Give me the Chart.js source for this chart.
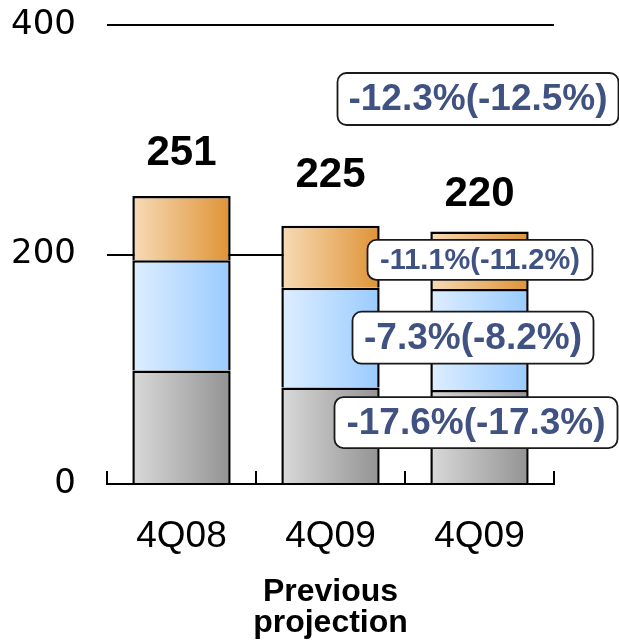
<!DOCTYPE html>
<html>
<head>
<meta charset="utf-8">
<style>
  html, body { margin: 0; padding: 0; background: #ffffff; }
  #chart { display: block; }
</style>
<script src="https://cdn.jsdelivr.net/npm/chart.js@4/dist/chart.umd.min.js"></script>
</head>
<body>
<canvas id="chart" width="619" height="641"></canvas>
<script>
// Categories and stacked segment values
const categories = ['4Q08', '4Q09', '4Q09'];
const graySeries = [99, 84, 82];
const blueSeries = [96, 87, 88];
const orangeSeries = [56, 54, 50];
const totals = [251, 225, 220];
const yTicks = [0, 200, 400];
const changeLabels = ['-12.3%(-12.5%)', '-11.1%(-11.2%)', '-7.3%(-8.2%)', '-17.6%(-17.3%)'];
const axisTitle = ['Previous', 'projection'];

const BAR_PCT = 0.66;
const PLOT_TOP = 25;

// Horizontal gradient spanning each individual bar
function barGradient(left, right) {
  return function (ctx) {
    const chart = ctx.chart;
    const xs = chart.scales && chart.scales.x;
    if (!xs || ctx.type !== 'data' || !isFinite(xs.width)) return right;
    const cx = xs.getPixelForValue(ctx.dataIndex);
    const half = xs.width / categories.length * BAR_PCT / 2;
    const g = chart.ctx.createLinearGradient(cx - half, 0, cx + half, 0);
    g.addColorStop(0, left);
    g.addColorStop(1, right);
    return g;
  };
}

// Totals above bars, axis tick marks and the change call-out boxes
const overlayPlugin = {
  id: 'overlay',
  afterDatasetsDraw(chart) {
    const { ctx, chartArea: area, scales: { x, y } } = chart;
    ctx.save();

    // tick marks pointing up from the category axis
    ctx.strokeStyle = '#000';
    ctx.lineWidth = 2;
    const n = categories.length;
    for (let i = 0; i <= n; i++) {
      const px = Math.round(area.left + i * area.width / n);
      ctx.beginPath();
      ctx.moveTo(px, area.bottom);
      ctx.lineTo(px, area.bottom - 13);
      ctx.stroke();
    }

    // totals
    const lift = [31, 39, 26];
    ctx.fillStyle = '#000';
    ctx.font = 'bold 42px "Liberation Sans", Arial, sans-serif';
    ctx.textAlign = 'center';
    ctx.textBaseline = 'alphabetic';
    totals.forEach((t, i) => {
      ctx.fillText(String(t), x.getPixelForValue(i), y.getPixelForValue(t) - lift[i]);
    });

    // call-out boxes next to the last bar
    const anchorX = x.getPixelForValue(n - 1);
    const boxes = [
      { text: changeLabels[0], dx: -1.5, v: 335.5, size: 37, w: 281, h: 52 },
      { text: changeLabels[1], dx: 0.5, v: 195.3, size: 29, w: 225, h: 40 },
      { text: changeLabels[2], dx: -6.5, v: 127.5, size: 37, w: 241, h: 52 },
      { text: changeLabels[3], dx: -3.5, v: 53.5, size: 37, w: 283, h: 51 }
    ];
    boxes.forEach(b => {
      const cx = anchorX + b.dx;
      const cy = y.getPixelForValue(b.v);
      ctx.beginPath();
      ctx.roundRect(cx - b.w / 2, cy - b.h / 2, b.w, b.h, 9);
      ctx.fillStyle = '#ffffff';
      ctx.fill();
      ctx.lineWidth = 1.8;
      ctx.strokeStyle = '#1a1a1a';
      ctx.stroke();
      ctx.fillStyle = '#405282';
      ctx.font = 'bold ' + b.size + 'px "Liberation Sans", Arial, sans-serif';
      ctx.textAlign = 'center';
      ctx.textBaseline = 'middle';
      ctx.fillText(b.text, cx, cy + 1);
    });

    ctx.restore();
  }
};

// Pin the plot area top regardless of label overflow padding
const plotTopPlugin = {
  id: 'plotTop',
  afterLayout(chart) {
    const area = chart.chartArea;
    const y = chart.scales.y;
    if (area.top !== PLOT_TOP) {
      area.top = PLOT_TOP;
      area.height = area.bottom - area.top;
      y.top = PLOT_TOP;
      y.height = y.bottom - y.top;
      y.configure();
    }
  }
};

new Chart(document.getElementById('chart'), {
  type: 'bar',
  data: {
    labels: categories,
    datasets: [
      { data: graySeries, backgroundColor: barGradient('#d9d9d9', '#939393') },
      { data: blueSeries, backgroundColor: barGradient('#deeeff', '#99cbff') },
      { data: orangeSeries, backgroundColor: barGradient('#f7dbb6', '#df9336') }
    ].map(ds => Object.assign(ds, {
      borderColor: '#000000',
      borderWidth: 2.5,
      categoryPercentage: 1,
      barPercentage: BAR_PCT
    }))
  },
  options: {
    responsive: false,
    animation: false,
    devicePixelRatio: 1,
    layout: { padding: { top: 0, right: 65, left: 0, bottom: 0 } },
    plugins: { legend: { display: false }, tooltip: { enabled: false } },
    scales: {
      x: {
        stacked: true,
        grid: { display: false },
        border: { display: true, color: '#000', width: 2 },
        ticks: {
          color: '#000',
          padding: 23,
          font: { family: '"Liberation Sans", Arial, sans-serif', size: 37 }
        },
        title: {
          display: true,
          text: axisTitle,
          color: '#000',
          padding: { top: 0, bottom: 3 },
          font: { family: '"Liberation Sans", Arial, sans-serif', size: 32, weight: 'bold', lineHeight: 0.95 }
        },
        afterFit(scale) { scale.height = 157; }
      },
      y: {
        stacked: true,
        min: 0,
        max: 400,
        afterBuildTicks(scale) { scale.ticks = yTicks.map(v => ({ value: v })); },
        grid: { color: '#000', lineWidth: 2, drawTicks: false },
        border: { display: false },
        ticks: {
          color: '#000',
          padding: 31,
          font: { family: '"DejaVu Sans", Verdana, sans-serif', size: 34 }
        },
        afterFit(scale) { scale.width = 107; }
      }
    }
  },
  plugins: [plotTopPlugin, overlayPlugin]
});
</script>
</body>
</html>
